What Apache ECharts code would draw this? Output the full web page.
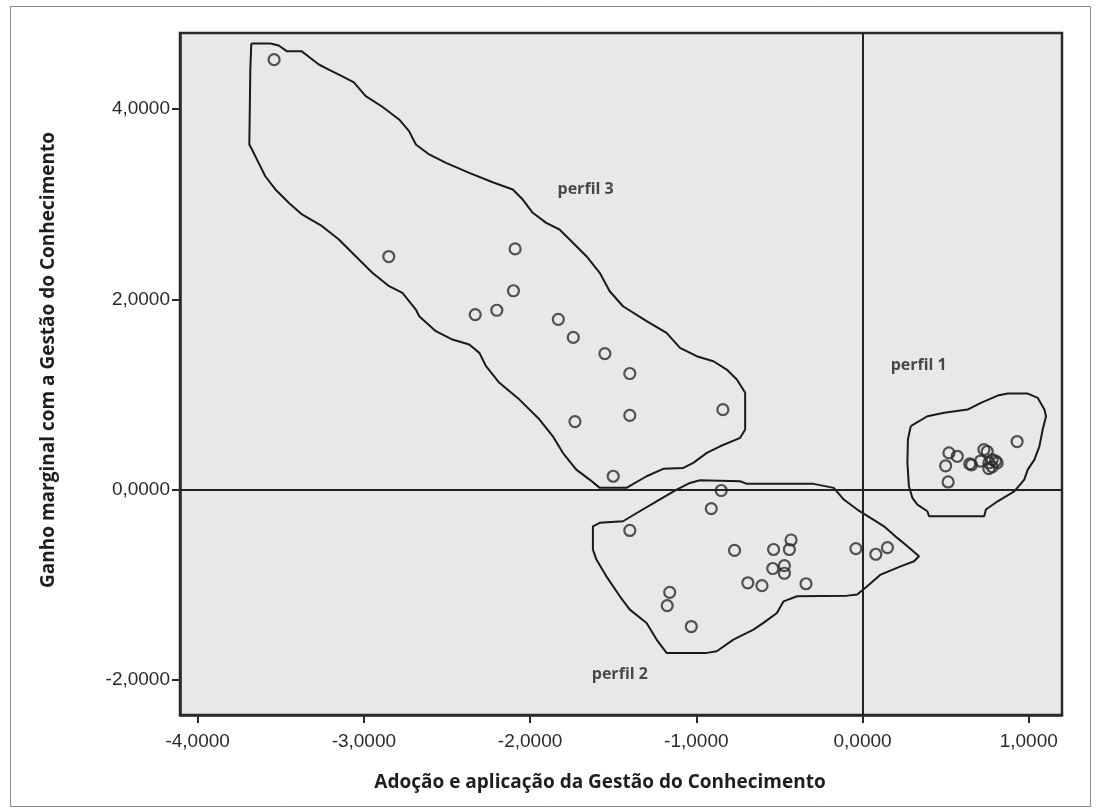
<!DOCTYPE html>
<html>
<head>
<meta charset="utf-8">
<script src="https://cdn.jsdelivr.net/npm/echarts@6/dist/echarts.min.js"></script>
<style>
html,body{margin:0;padding:0;background:#fff;}
#chart{width:1098px;height:812px;}
</style>
</head>
<body>
<div id="chart"></div>
<script>
// ---------- DATA ----------
const xTicks = [-4, -3, -2, -1, 0, 1];
const yTicks = [-2, 0, 2, 4];

const xTitle = 'Adoção e aplicação da Gestão do Conhecimento';
const yTitle = 'Ganho marginal com a Gestão do Conhecimento';

// perfil 3 points
const perfil3Points = [
  [-3.54, 4.52], [-2.85, 2.45], [-2.09, 2.53], [-2.10, 2.09], [-2.20, 1.885],
  [-2.33, 1.84], [-1.83, 1.79], [-1.74, 1.60], [-1.55, 1.43], [-1.40, 1.22],
  [-0.84, 0.84], [-1.40, 0.78], [-1.73, 0.715], [-1.50, 0.14]
];
// perfil 2 points
const perfil2Points = [
  [-0.85, -0.01], [-0.91, -0.20], [-1.40, -0.43], [-0.77, -0.64], [-0.535, -0.63],
  [-0.43, -0.53], [-0.44, -0.63], [-0.54, -0.83], [-0.47, -0.80], [-0.47, -0.88],
  [-0.69, -0.98], [-0.605, -1.01], [-0.34, -0.99], [-1.16, -1.08], [-1.175, -1.22],
  [-1.03, -1.44], [-0.04, -0.62], [0.08, -0.68], [0.15, -0.61]
];
// perfil 1 points
const perfil1Points = [
  [0.93, 0.505], [0.52, 0.385], [0.57, 0.35], [0.50, 0.25], [0.515, 0.08],
  [0.645, 0.27], [0.656, 0.26], [0.73, 0.42], [0.75, 0.40], [0.71, 0.30],
  [0.76, 0.28], [0.78, 0.315], [0.80, 0.30], [0.76, 0.22], [0.78, 0.24], [0.81, 0.28]
];

// hand-drawn outlines (data units)
const outline3 = [
  [-3.677,4.690],[-3.562,4.690],[-3.512,4.669],[-3.464,4.609],[-3.375,4.609],[-3.331,4.550],
  [-3.271,4.469],[-3.211,4.416],[-3.132,4.346],[-3.060,4.280],[-2.989,4.136],[-2.891,4.027],
  [-2.788,3.891],[-2.728,3.768],[-2.687,3.628],[-2.607,3.523],[-2.506,3.435],[-2.366,3.330],
  [-2.225,3.231],[-2.104,3.155],[-2.044,3.049],[-1.984,2.910],[-1.903,2.804],[-1.823,2.734],
  [-1.762,2.629],[-1.661,2.453],[-1.581,2.279],[-1.521,2.085],[-1.441,1.927],[-1.299,1.770],
  [-1.179,1.648],[-1.098,1.490],[-0.998,1.402],[-0.897,1.349],[-0.817,1.262],[-0.756,1.157],
  [-0.706,1.017],[-0.706,0.631],[-0.736,0.544],[-0.857,0.455],[-0.937,0.386],[-1.018,0.281],
  [-1.078,0.228],[-1.199,0.218],[-1.299,0.140],[-1.420,0.018],[-1.581,0.018],[-1.642,0.105],
  [-1.722,0.210],[-1.803,0.386],[-1.863,0.560],[-1.943,0.736],[-2.064,0.946],[-2.185,1.122],
  [-2.265,1.297],[-2.305,1.437],[-2.366,1.525],[-2.467,1.577],[-2.567,1.665],[-2.667,1.822],
  [-2.687,1.893],[-2.768,2.068],[-2.848,2.138],[-2.949,2.279],[-3.049,2.453],[-3.150,2.629],
  [-3.251,2.769],[-3.372,2.892],[-3.452,3.015],[-3.532,3.155],[-3.593,3.294],[-3.633,3.435],
  [-3.673,3.575],[-3.689,3.628],[-3.683,4.416],[-3.677,4.690]
];
const outline2 = [
  [-0.978,0.098],[-0.736,0.087],[-0.696,0.060],[-0.294,0.060],[-0.173,0.018],[-0.113,-0.105],
  [-0.032,-0.210],[0.048,-0.298],[0.129,-0.386],[0.209,-0.508],[0.270,-0.596],[0.340,-0.701],
  [0.310,-0.754],[0.229,-0.807],[0.109,-0.894],[0.028,-1.017],[-0.032,-1.104],[-0.092,-1.115],
  [-0.394,-1.122],[-0.475,-1.175],[-0.515,-1.297],[-0.596,-1.402],[-0.656,-1.472],[-0.777,-1.577],
  [-0.877,-1.700],[-0.937,-1.717],[-1.179,-1.717],[-1.239,-1.577],[-1.299,-1.402],[-1.400,-1.262],
  [-1.460,-1.122],[-1.541,-0.912],[-1.601,-0.736],[-1.622,-0.631],[-1.622,-0.386],[-1.581,-0.350],
  [-1.441,-0.333],[-1.340,-0.228],[-1.239,-0.123],[-1.118,0.000],[-1.038,0.070],[-0.978,0.098]
];
const outline1 = [
  [0.290,0.666],[0.390,0.771],[0.491,0.807],[0.632,0.841],[0.712,0.912],[0.813,0.988],
  [0.873,1.009],[0.994,1.009],[1.054,0.964],[1.094,0.841],[1.104,0.771],[1.084,0.631],
  [1.064,0.455],[1.034,0.315],[0.994,0.210],[0.973,0.105],[0.913,-0.018],[0.813,-0.123],
  [0.742,-0.210],[0.732,-0.281],[0.400,-0.281],[0.390,-0.228],[0.330,-0.158],[0.300,-0.087],
  [0.279,0.035],[0.270,0.281],[0.273,0.526],[0.290,0.666]
];

const profileNames = ['perfil 1', 'perfil 2', 'perfil 3'];
const profileLabelAt = [[0.338, 1.304], [-1.460, -1.945], [-1.666, 3.155]];

// ---------- CHART ----------
const fmt = v => v.toFixed(4).replace('.', ',');
const chart = echarts.init(document.getElementById('chart'), null, {renderer: 'canvas'});

function outlineSeries(d) {
  return {type: 'line', data: d, symbol: 'none', silent: true, z: 3,
    lineStyle: {color: '#1a1a1a', width: 2}, animation: false};
}
function pointSeries(d) {
  return {type: 'scatter', data: d, symbol: 'circle', symbolSize: 11, z: 4,
    itemStyle: {color: 'rgba(0,0,0,0)', borderColor: '#2a2a2a', borderWidth: 2.2}, animation: false};
}

chart.setOption({
  backgroundColor: '#ffffff',
  animation: false,
  graphic: [{
    type: 'rect', left: 10, top: 6, z: -10,
    shape: {width: 1080, height: 800},
    style: {fill: 'rgba(0,0,0,0)', stroke: '#8a8a8a', lineWidth: 1}
  }],
  grid: {left: 180, right: 36, top: 33, bottom: 97, show: true,
    backgroundColor: '#e8e8e8', borderColor: '#2a2a2a', borderWidth: 2.5},
  xAxis: {
    type: 'value', min: -4.106, max: 1.20,
    name: xTitle, nameLocation: 'middle', nameGap: 58,
    nameTextStyle: {fontFamily: 'Open Sans', fontWeight: 'bold', fontSize: 19, color: '#1e1e1e',
      padding: [0, 42, 0, 0]},
    axisLine: {show: true, onZero: false, lineStyle: {color: '#2a2a2a', width: 2.5}},
    axisTick: {show: true, length: 8, lineStyle: {color: '#2a2a2a', width: 2}, customValues: xTicks},
    axisLabel: {customValues: xTicks, formatter: fmt, margin: 17,
      fontFamily: 'Liberation Sans', fontSize: 19, color: '#2a2a2a'},
    splitLine: {show: false}
  },
  yAxis: {
    type: 'value', min: -2.37, max: 4.80,
    name: yTitle, nameLocation: 'middle', nameGap: 122,
    nameTextStyle: {fontFamily: 'Open Sans', fontWeight: 'bold', fontSize: 19, color: '#1e1e1e',
      padding: [0, 0, 0, 28]},
    axisLine: {show: true, onZero: false, lineStyle: {color: '#2a2a2a', width: 2.5}},
    axisTick: {show: true, length: 8, lineStyle: {color: '#2a2a2a', width: 2}, customValues: yTicks},
    axisLabel: {customValues: yTicks, formatter: fmt, margin: 10,
      fontFamily: 'Liberation Sans', fontSize: 19, color: '#2a2a2a'},
    splitLine: {show: false}
  },
  series: [
    {
      type: 'line', data: [], silent: true, z: 2,
      markLine: {
        silent: true, symbol: ['none', 'none'], label: {show: false},
        lineStyle: {color: '#222', width: 2, type: 'solid'},
        data: [{xAxis: 0}, {yAxis: 0}]
      }
    },
    outlineSeries(outline3),
    outlineSeries(outline2),
    outlineSeries(outline1),
    pointSeries(perfil3Points),
    pointSeries(perfil2Points),
    pointSeries(perfil1Points),
    {
      type: 'scatter', symbolSize: 0, silent: true, z: 5,
      data: profileLabelAt.map((p, i) => ({value: p, name: profileNames[i]})),
      label: {show: true, position: 'inside', formatter: p => p.name,
        fontFamily: 'Open Sans', fontWeight: 'bold', fontSize: 16, color: '#1e1e1e'}
    }
  ]
});
</script>
</body>
</html>
